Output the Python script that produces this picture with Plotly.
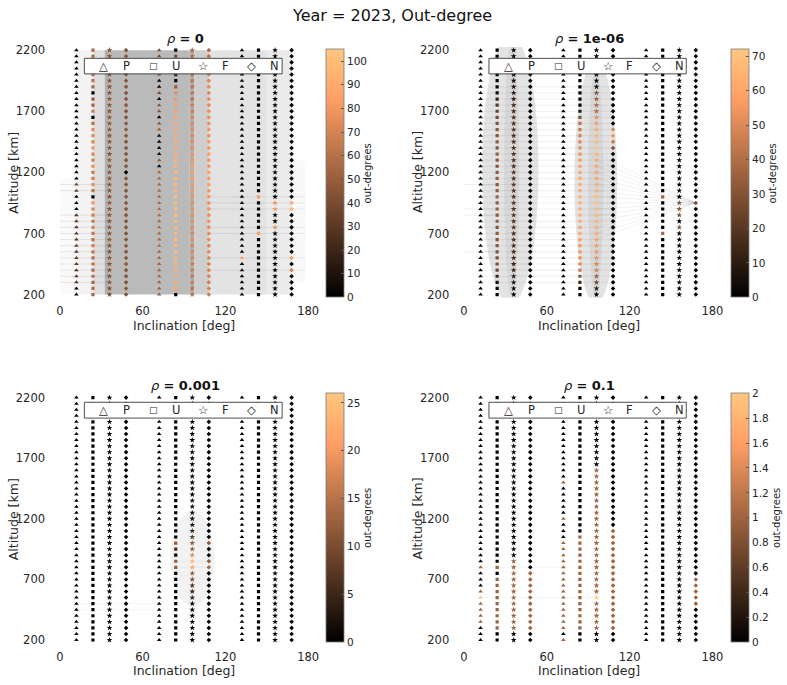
import plotly.graph_objects as go

W, H = 787, 685

# ---------------------------------------------------------------- data
INCLINATIONS = [12, 24, 36, 48, 72, 84, 96, 108, 132, 144, 156, 168]
ALTITUDES = list(range(2200, 150, -50))          # 41 shells, top -> bottom
SHELL_SYMBOLS = ["triangle-up", "square", "star", "diamond"] * 3
SHELL_SIZES = [4.0, 3.2, 4.4, 3.5] * 3
LEGEND_GLYPHS = ["\u25b3", "P", "\u25a1", "U", "\u2606", "F", "\u25c7", "N"]
LEGEND_GLYPH_SIZES = [11.5, 11.5, 9, 11.5, 11.5, 11.5, 11.5, 11.5]

Z = [0] * 41

# out-degree per shell (top -> bottom), rho = 0
OUTDEG_RHO_0 = {
    12: [0, 0, 0, 0, 0, 0, 0, 0, 0, 0, 0, 0, 0, 0, 0, 0, 0, 0, 0, 0,
         0, 0, 38, 35, 0, 3, 0, 28, 30, 26, 30, 28, 32, 27, 30, 28, 26, 30, 25, 0, 0],
    24: [55, 55, 58, 60, 60, 62, 55, 0, 50, 52, 65, 0, 60, 75, 75, 72, 80, 72, 70, 75,
         66, 70, 75, 62, 0, 80, 70, 68, 65, 70, 66, 62, 68, 64, 60, 62, 58, 60, 56, 58, 55],
    36: [42, 44, 45, 46, 44, 46, 45, 43, 47, 45, 44, 46, 48, 45, 44, 47, 46, 45, 48, 46,
         45, 47, 46, 44, 45, 47, 46, 45, 44, 46, 45, 47, 44, 45, 46, 44, 43, 45, 44, 42, 40],
    48: [44, 45, 42, 44, 46, 45, 44, 43, 45, 46, 44, 45, 47, 46, 45, 44, 46, 45, 44, 46,
         0, 45, 46, 44, 47, 45, 46, 44, 45, 46, 44, 45, 47, 45, 44, 46, 45, 43, 44, 45, 42],
    72: [42, 40, 38, 40, 45, 0, 0, 40, 0, 45, 45, 0, 45, 50, 0, 0, 0, 0, 50, 0,
         55, 55, 54, 56, 58, 55, 57, 56, 54, 58, 56, 55, 57, 54, 56, 55, 53, 55, 52, 54, 50],
    84: [0, 40, 45, 50, 20, 0, 50, 75, 80, 85, 85, 86, 88, 90, 90, 92, 90, 94, 95, 96,
         98, 97, 96, 95, 100, 98, 99, 97, 100, 98, 96, 98, 97, 99, 96, 95, 92, 90, 88, 85, 0],
    96: [55, 58, 60, 60, 60, 62, 60, 64, 62, 65, 66, 70, 72, 74, 72, 75, 76, 78, 80, 84,
         86, 85, 82, 80, 78, 76, 78, 75, 76, 74, 72, 74, 70, 72, 70, 68, 66, 64, 65, 62, 60],
    108: [58, 62, 65, 68, 70, 72, 74, 72, 75, 74, 76, 78, 76, 80, 78, 82, 80, 84, 82, 80,
          86, 82, 84, 80, 82, 78, 80, 76, 78, 76, 74, 76, 72, 74, 72, 70, 72, 70, 68, 70, 66],
    132: [0, 0, 0, 0, 0, 0, 0, 0, 0, 0, 0, 0, 0, 0, 0, 0, 0, 0, 0, 0,
          0, 0, 0, 0, 0, 0, 0, 0, 0, 0, 0, 0, 0, 0, 85, 0, 0, 0, 0, 0, 0],
    144: [0, 0, 0, 0, 0, 0, 0, 0, 0, 0, 0, 0, 0, 0, 0, 0, 0, 0, 0, 0,
          0, 0, 0, 0, 82, 0, 0, 0, 0, 0, 85, 0, 0, 0, 0, 0, 0, 0, 0, 0, 0],
    156: [0, 0, 0, 0, 0, 0, 0, 0, 0, 0, 0, 0, 0, 0, 0, 0, 0, 0, 0, 0,
          0, 0, 0, 0, 0, 78, 82, 0, 0, 76, 0, 0, 0, 0, 0, 0, 0, 0, 0, 0, 0],
    168: [0, 0, 0, 0, 0, 0, 0, 0, 0, 0, 0, 0, 0, 0, 0, 0, 0, 0, 0, 0,
          0, 0, 0, 0, 0, 92, 95, 0, 0, 0, 0, 0, 0, 0, 82, 0, 70, 0, 0, 0, 0],
}

# rho = 1e-06
OUTDEG_RHO_1EM6 = {
    12: Z,
    24: [0, 0, 0, 0, 0, 0, 2, 5, 12, 20, 24, 28, 30, 32, 30, 33, 31, 34, 32, 30,
         33, 35, 32, 34, 36, 33, 35, 32, 34, 31, 33, 30, 32, 30, 29, 28, 26, 15, 6, 0, 0],
    36: [0, 0, 0, 0, 2, 4, 8, 10, 12, 14, 15, 16, 17, 18, 16, 18, 17, 19, 18, 17,
         19, 18, 20, 19, 18, 20, 19, 18, 17, 18, 16, 17, 15, 16, 14, 13, 12, 10, 6, 2, 0],
    48: Z,
    72: Z,
    84: [0, 0, 0, 0, 0, 0, 0, 0, 0, 0, 8, 30, 42, 45, 48, 50, 52, 55, 56, 58,
         60, 62, 63, 62, 64, 65, 63, 64, 62, 60, 62, 58, 56, 55, 52, 50, 45, 30, 15, 0, 0],
    96: [0, 0, 0, 0, 0, 0, 5, 30, 35, 38, 40, 52, 56, 60, 66, 68, 70, 66, 62, 60,
         58, 60, 62, 65, 68, 70, 68, 66, 64, 62, 60, 58, 56, 55, 52, 50, 48, 35, 25, 10, 0],
    108: [0, 0, 0, 0, 0, 0, 0, 0, 0, 0, 0, 0, 0, 50, 55, 45, 30, 0, 0, 0,
          0, 0, 0, 0, 0, 0, 0, 0, 0, 0, 0, 0, 0, 0, 0, 0, 0, 0, 0, 0, 0],
    132: Z,
    144: [0, 0, 0, 0, 0, 0, 0, 0, 0, 0, 0, 0, 0, 0, 0, 0, 0, 0, 0, 0,
          0, 0, 0, 0, 36, 0, 0, 0, 0, 0, 38, 0, 0, 0, 0, 0, 0, 0, 0, 0, 0],
    156: [0, 0, 0, 0, 0, 0, 0, 0, 0, 0, 0, 0, 0, 0, 0, 0, 0, 0, 0, 0,
          0, 0, 0, 0, 0, 30, 32, 28, 0, 30, 0, 0, 0, 0, 0, 0, 0, 0, 0, 0, 0],
    168: [0, 0, 0, 0, 0, 0, 0, 0, 0, 0, 0, 0, 0, 0, 0, 0, 0, 0, 0, 0,
          0, 0, 0, 0, 0, 28, 0, 0, 0, 0, 0, 0, 0, 0, 0, 0, 0, 0, 0, 0, 0],
}

# rho = 0.001
OUTDEG_RHO_1EM3 = {
    12: Z, 24: Z, 36: Z, 48: Z, 72: Z,
    84: [0, 0, 0, 0, 0, 0, 0, 0, 0, 0, 0, 0, 0, 0, 0, 0, 0, 0, 0, 0,
         0, 0, 0, 0, 12, 6, 0, 12, 12, 0, 0, 0, 0, 0, 0, 0, 0, 0, 0, 0, 0],
    96: [0, 0, 0, 0, 0, 0, 0, 0, 0, 0, 0, 0, 0, 0, 0, 0, 0, 2, 2, 2,
         2, 2, 5, 8, 12, 12, 18, 24, 22, 12, 10, 6, 5, 4, 0, 0, 0, 0, 0, 0, 0],
    108: [0, 0, 0, 0, 0, 0, 0, 0, 0, 0, 0, 0, 0, 0, 0, 0, 0, 0, 0, 0,
          0, 0, 0, 0, 12, 0, 0, 12, 14, 0, 0, 0, 0, 0, 0, 0, 0, 0, 0, 0, 0],
    132: Z, 144: Z, 156: Z, 168: Z,
}

# rho = 0.1
OUTDEG_RHO_1EM1 = {
    12: [0, 0, 0, 0, 0, 0, 0, 0, 0, 0, 0, 0, 0, 0, 0, 0, 0, 0, 0, 0,
         0, 0, 0, 0, 0, 0, 0, 0, 1, 0, 0, 0, 1, 2, 1, 1, 1, 1, 0, 0, 0],
    24: [0, 0, 0, 0, 0, 0, 0, 0, 0, 0, 0, 0, 0, 0, 0, 0, 0, 0, 0, 0,
         0, 0, 0, 0, 0, 0, 0, 0, 1, 0, 1, 1, 1, 1, 1, 1, 1, 1, 1, 0, 0],
    36: [0, 0, 0, 0, 0, 0, 0, 0, 0, 0, 0, 0, 0, 0, 0, 0, 0, 0, 0, 0,
         0, 0, 0, 0, 0, 0, 0, 1, 1, 1, 1, 1, 1, 1, 1, 1, 1, 1, 1, 0, 0],
    48: [0, 0, 0, 0, 0, 0, 0, 0, 0, 0, 0, 0, 0, 0, 0, 0, 0, 0, 0, 0,
         0, 0, 0, 0, 0, 0, 0, 0, 0, 1, 1, 1, 1, 1, 1, 1, 1, 1, 1, 0, 0],
    72: [0, 0, 0, 0, 0, 0, 0, 0, 0, 0, 0, 0, 0, 0, 1, 0, 0, 0, 0, 0,
         1, 0, 0, 0, 1, 1, 1, 1, 1, 1, 1, 1, 1, 1, 1, 1, 1, 1, 1, 0, 1],
    84: [0, 0, 0, 0, 0, 0, 0, 0, 0, 0, 0, 0, 0, 0, 0, 0, 0, 0, 0, 0,
         0, 0, 0, 1, 1, 1, 1, 1, 1, 1, 1, 1, 1, 1, 1, 1, 1, 1, 1, 0, 0],
    96: [0, 0, 0, 0, 0, 0, 0, 0, 0, 0, 0, 0, 1, 1, 1, 1, 1, 1, 1, 1,
         1, 1, 1, 1, 1, 1, 1, 1, 1, 1, 1, 1, 1, 2, 1, 1, 1, 1, 1, 0, 0],
    108: [0, 0, 0, 0, 0, 0, 0, 0, 0, 0, 0, 0, 0, 0, 0, 0, 0, 0, 0, 0,
          0, 0, 1, 1, 1, 1, 1, 1, 1, 1, 1, 1, 1, 1, 1, 1, 1, 1, 1, 0, 0],
    132: Z, 144: Z, 156: Z,
    168: [0, 0, 0, 0, 0, 0, 0, 0, 0, 0, 0, 0, 0, 0, 0, 0, 0, 0, 0, 0,
          0, 0, 0, 0, 0, 0, 0, 0, 0, 0, 1, 1, 1, 1, 1, 0, 0, 0, 0, 0, 0],
}

# link density between shells, rho = 0: inclination bands and grey level
P1_BAND_LO = [0, 12, 24, 32.5, 36, 94, 97.5, 108, 150, 168]
P1_BAND_HI = [12, 24, 32.5, 36, 94, 97.5, 108, 150, 168, 178]
P1_BAND_BOTTOM = [200, 200, 200, 200, 200, 200, 200, 200, 200, 300]
P1_BAND_TOP = [1150, 2200, 2200, 2200, 2200, 2200, 2200, 2200, 2200, 1300]
P1_BAND_GREY = [250, 243, 222, 176, 186, 176, 206, 227, 235, 249]
P1_LINK_ALTS_LEFT = [1100, 1050, 850, 800, 750, 700, 650, 600, 550, 500, 450, 400, 350, 300]
P1_LINK_ALTS_RIGHT = [1000, 950, 900, 750, 700, 500, 400]

# rho = 1e-06: link clouds (inclination / altitude extents, opacity)
P2_CLOUD_INC0 = [13, 29, 80, 90]
P2_CLOUD_INC1 = [54, 40, 111, 101]
P2_CLOUD_ALT0 = [120, 180, 120, 180]
P2_CLOUD_ALT1 = [2330, 2250, 2130, 2060]
P2_CLOUD_ALPHA = [0.11, 0.05, 0.11, 0.05]
P2_LINK_ALTS_MID = [1900, 1850, 1800, 1750, 1700, 1650, 1600, 1550, 1500, 1450, 1400,
                    1350, 1300, 1250, 1200, 1150, 1100, 1050, 1000, 950, 900, 850,
                    800, 750, 700, 650, 600, 550, 500, 450, 400, 350, 300]
P2_LINK_ALTS_LEFT = [1100, 900, 850, 550]
P2_FAN_SOURCE_ALTS = [1350, 1300, 1250, 1200, 1150, 1100, 1050, 1000, 950, 900,
                      850, 800, 750, 700, 650]
P2_FAN_TARGET = (168, 950)

# rho = 0.001 and rho = 0.1: sparse links
P3_CLOUD = (80, 112, 480, 1260, 0.05)
P3_LINKS = [(500, 12, 72), (450, 12, 72), (1250, 72, 108), (850, 84, 108), (800, 84, 108)]
P4_LINKS = [(550, 12, 96), (800, 12, 72)]

PANELS = [
    dict(label="0", values=OUTDEG_RHO_0, cmax=105, dtick=10, col=0, row=0),
    dict(label="1e-06", values=OUTDEG_RHO_1EM6, cmax=72, dtick=10, col=1, row=0),
    dict(label="0.001", values=OUTDEG_RHO_1EM3, cmax=26, dtick=5, col=0, row=1),
    dict(label="0.1", values=OUTDEG_RHO_1EM1, cmax=2, dtick=0.2, col=1, row=1),
]

# ---------------------------------------------------------------- layout geometry (px)
X_RANGE = [-2, 184]
Y_RANGE = [175, 2225]
COL_X = [(56.5, 315.1), (463.8, 722.4)]
ROW_Y = [(43.6, 297.1), (395.2, 646.6)]
CB_X = [327.7, 735.7]
CB_Y = [(46.0, 296.7), (394.0, 645.7)]
LEGEND_BOX_X = [(84.0, 283.3), (491.7, 690.5)]
LEGEND_BOX_Y = [(55.0, 70.7), (403.0, 419.0)]
LEGEND_GLYPH_X = [103.3, 126.7, 154.0, 176.7, 204.0, 226.0, 252.7, 276.0]

COPPER = [[0.0, "rgb(0,0,0)"], [0.8, "rgb(255,159,101)"], [1.0, "rgb(255,199,127)"]]
FONT = "DejaVu Sans"
TXT = "#262626"


def px(xp):
    return xp / W


def py(yp):
    return 1 - yp / H


fig = go.Figure()
shapes = []
annotations = []


def add_links(segments, xa, ya, color="rgba(0,0,0,0.10)", width=0.7):
    xs, ys = [], []
    for (x0, y0, x1, y1) in segments:
        xs += [x0, x1, None]
        ys += [y0, y1, None]
    fig.add_trace(go.Scatter(x=xs, y=ys, mode="lines", xaxis=xa, yaxis=ya,
                             line=dict(color=color, width=width),
                             hoverinfo="skip", showlegend=False))


for i, p in enumerate(PANELS):
    n = i + 1
    xa = "x" if n == 1 else f"x{n}"
    ya = "y" if n == 1 else f"y{n}"
    c, r = p["col"], p["row"]

    # link haze
    if n == 1:
        for lo, hi, b, t, g in zip(P1_BAND_LO, P1_BAND_HI, P1_BAND_BOTTOM, P1_BAND_TOP, P1_BAND_GREY):
            shapes.append(dict(type="rect", xref=xa, yref=ya, x0=lo, x1=hi, y0=b, y1=t,
                               fillcolor=f"rgb({g},{g},{g})", line=dict(width=0), layer="below"))
        add_links([(0, a, 36, a) for a in P1_LINK_ALTS_LEFT], xa, ya, "rgba(0,0,0,0.13)")
        add_links([(108, a, 178, a) for a in P1_LINK_ALTS_RIGHT], xa, ya, "rgba(0,0,0,0.10)")
    elif n == 2:
        for x0, x1, y0, y1, a in zip(P2_CLOUD_INC0, P2_CLOUD_INC1, P2_CLOUD_ALT0, P2_CLOUD_ALT1, P2_CLOUD_ALPHA):
            shapes.append(dict(type="circle", xref=xa, yref=ya, x0=x0, x1=x1, y0=y0, y1=y1,
                               fillcolor=f"rgba(0,0,0,{a})", line=dict(width=0), layer="below"))
        add_links([(12, a, 108, a) for a in P2_LINK_ALTS_MID], xa, ya, "rgba(0,0,0,0.09)")
        add_links([(0, a, 24, a) for a in P2_LINK_ALTS_LEFT], xa, ya, "rgba(0,0,0,0.10)")
        tx, ty = P2_FAN_TARGET
        add_links([(96, a, tx, ty) for a in P2_FAN_SOURCE_ALTS], xa, ya, "rgba(0,0,0,0.08)")
    elif n == 3:
        x0, x1, y0, y1, a = P3_CLOUD
        shapes.append(dict(type="circle", xref=xa, yref=ya, x0=x0, x1=x1, y0=y0, y1=y1,
                           fillcolor=f"rgba(0,0,0,{a})", line=dict(width=0), layer="below"))
        add_links([(x0_, a_, x1_, a_) for (a_, x0_, x1_) in P3_LINKS], xa, ya, "rgba(0,0,0,0.06)")
    else:
        add_links([(x0_, a_, x1_, a_) for (a_, x0_, x1_) in P4_LINKS], xa, ya, "rgba(0,0,0,0.06)")

    # shells coloured by out-degree
    cb_y0, cb_y1 = CB_Y[r]
    for j, inc in enumerate(INCLINATIONS):
        marker = dict(symbol=SHELL_SYMBOLS[j], size=SHELL_SIZES[j], color=p["values"][inc],
                      colorscale=COPPER, cmin=0, cmax=p["cmax"], line=dict(width=0),
                      showscale=(j == 0))
        if j == 0:
            marker["colorbar"] = dict(
                x=px(CB_X[c]), xanchor="left", xpad=0, ypad=0,
                y=py((cb_y0 + cb_y1) / 2), yanchor="middle",
                len=(cb_y1 - cb_y0) / H, lenmode="fraction", thickness=17.5,
                outlinewidth=0.8, outlinecolor="#7a7a7a",
                tick0=0, dtick=p["dtick"], ticks="inside", ticklen=3, tickcolor="#555",
                tickfont=dict(family=FONT, size=10.5, color=TXT),
                title=dict(text="out-degrees", side="right",
                           font=dict(family=FONT, size=10, color=TXT)))
        fig.add_trace(go.Scatter(x=[inc] * len(ALTITUDES), y=ALTITUDES, mode="markers",
                                 marker=marker, xaxis=xa, yaxis=ya,
                                 hoverinfo="skip", showlegend=False))

    # axes
    xl, xr = COL_X[c]
    yt, yb = ROW_Y[r]
    common = dict(showgrid=False, zeroline=False, showline=False, ticks="",
                  tickfont=dict(family=FONT, size=11.5, color=TXT))
    fig.layout[("xaxis" if n == 1 else f"xaxis{n}")] = dict(
        domain=[px(xl), px(xr)], range=X_RANGE, tickvals=[0, 60, 120, 180],
        anchor=ya, ticklabelstandoff=5, **common)
    fig.layout[("yaxis" if n == 1 else f"yaxis{n}")] = dict(
        domain=[py(yb), py(yt)], range=Y_RANGE, tickvals=[200, 700, 1200, 1700, 2200],
        anchor=xa, ticklabelstandoff=11, **common)

    # titles
    cx = (xl + xr) / 2
    annotations.append(dict(text=f"<i>\u03c1</i> <b>= {p['label']}</b>", xref="paper", yref="paper",
                            x=px(cx), y=py(yt - 9), xanchor="center", yanchor="middle",
                            showarrow=False, font=dict(family=FONT, size=13, color="#111")))
    annotations.append(dict(text="Inclination [deg]", xref="paper", yref="paper",
                            x=px(cx - 1), y=py(yb + 28), xanchor="center", yanchor="middle",
                            showarrow=False, font=dict(family=FONT, size=12.5, color=TXT)))
    annotations.append(dict(text="Altitude [km]", xref="paper", yref="paper", textangle=-90,
                            x=px(xl - 44), y=py((yt + yb) / 2), xanchor="center", yanchor="middle",
                            showarrow=False, font=dict(family=FONT, size=12.5, color=TXT)))

    # shell-type key
    bx0, bx1 = LEGEND_BOX_X[c]
    by0, by1 = LEGEND_BOX_Y[r]
    shapes.append(dict(type="rect", xref="paper", yref="paper", x0=px(bx0), x1=px(bx1),
                       y0=py(by1), y1=py(by0), fillcolor="white",
                       line=dict(color="#3a3a3a", width=0.9), layer="above"))
    for g, gs, gx in zip(LEGEND_GLYPHS, LEGEND_GLYPH_SIZES, LEGEND_GLYPH_X):
        annotations.append(dict(text=g, xref="paper", yref="paper",
                                x=px(gx + (bx0 - LEGEND_BOX_X[0][0])), y=py((by0 + by1) / 2),
                                xanchor="center", yanchor="middle", showarrow=False,
                                font=dict(family=FONT, size=gs, color=TXT)))

annotations.append(dict(text="Year = 2023, Out-degree", xref="paper", yref="paper",
                        x=0.5, y=py(12), xanchor="center", yanchor="middle", showarrow=False,
                        font=dict(family=FONT, size=16, color="#111")))

fig.update_layout(width=W, height=H, margin=dict(l=0, r=0, t=0, b=0),
                  paper_bgcolor="white", plot_bgcolor="white",
                  shapes=shapes, annotations=annotations, showlegend=False,
                  font=dict(family=FONT, color=TXT))

fig.write_html("out.html")
